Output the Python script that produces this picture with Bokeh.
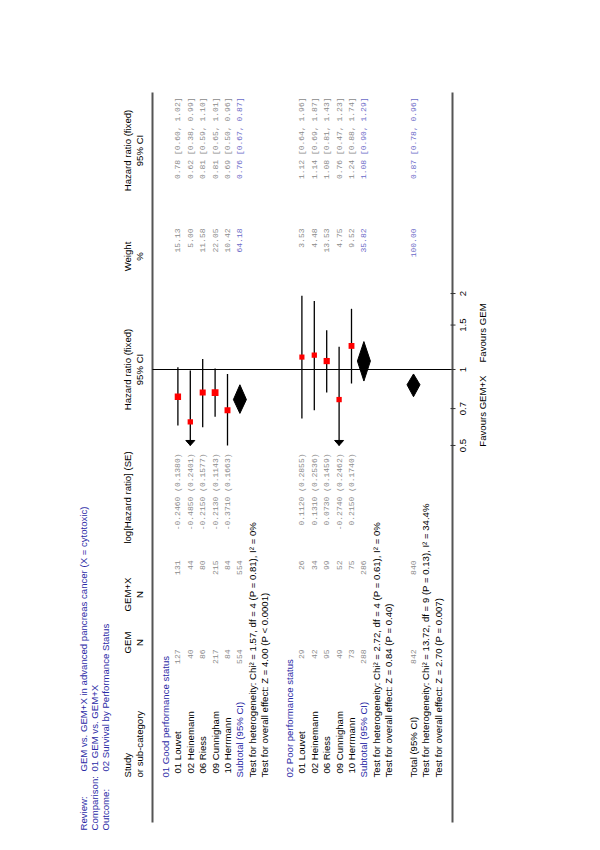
import numpy as np
from bokeh.plotting import figure
from bokeh.models import Range1d
from bokeh.embed import file_html
from bokeh.resources import INLINE
from bokeh.core.properties import value

# ---------------- data ----------------
review_labels = ["Review:", "Comparison:", "Outcome:"]
review_values = ["GEM vs. GEM+X in advanced pancreas cancer (X = cytotoxic)",
                 "01 GEM vs. GEM+X",
                 "02 Survival by Performance Status"]

group_titles = ["01 Good performance status", "02 Poor performance status"]
study_names = ["01 Louvet", "02 Heinemann", "06 Riess", "09 Cunnigham", "10 Herrmann"]

good_gem_n = [127, 40, 86, 217, 84]
good_gemx_n = [131, 44, 80, 215, 84]
good_loghr = [-0.2460, -0.4850, -0.2150, -0.2130, -0.3710]
good_se = [0.1380, 0.2401, 0.1577, 0.1143, 0.1663]
good_weight = [15.13, 5.00, 11.58, 22.05, 10.42]
good_hr = [0.78, 0.62, 0.81, 0.81, 0.69]
good_lo = [0.60, 0.38, 0.59, 0.65, 0.50]
good_hi = [1.02, 0.99, 1.10, 1.01, 0.96]

poor_gem_n = [29, 42, 95, 49, 73]
poor_gemx_n = [26, 34, 99, 52, 75]
poor_loghr = [0.1120, 0.1310, 0.0730, -0.2740, 0.2150]
poor_se = [0.2855, 0.2536, 0.1459, 0.2462, 0.1740]
poor_weight = [3.53, 4.48, 13.53, 4.75, 9.52]
poor_hr = [1.12, 1.14, 1.08, 0.76, 1.24]
poor_lo = [0.64, 0.69, 0.81, 0.47, 0.88]
poor_hi = [1.96, 1.87, 1.43, 1.23, 1.74]

subtotal_gem_n = [554, 288]
subtotal_gemx_n = [554, 286]
subtotal_weight = [64.18, 35.82]
subtotal_hr = [0.76, 1.08]
subtotal_lo = [0.67, 0.90]
subtotal_hi = [0.87, 1.29]
subtotal_het = ["Test for heterogeneity: Chi\u00b2 = 1.57, df = 4 (P = 0.81), I\u00b2 = 0%",
                "Test for heterogeneity: Chi\u00b2 = 2.72, df = 4 (P = 0.61), I\u00b2 = 0%"]
subtotal_overall = ["Test for overall effect: Z = 4.00 (P < 0.0001)",
                    "Test for overall effect: Z = 0.84 (P = 0.40)"]

total_gem_n = 842
total_gemx_n = 840
total_weight = 100.00
total_hr = 0.87
total_lo = 0.78
total_hi = 0.96
total_het = "Test for heterogeneity: Chi\u00b2 = 13.72, df = 9 (P = 0.13), I\u00b2 = 34.4%"
total_overall = "Test for overall effect: Z = 2.70 (P = 0.007)"

axis_ticks = [0.5, 0.7, 1, 1.5, 2]
axis_tick_labels = ["0.5", "0.7", "1", "1.5", "2"]
hr_min, hr_max = 0.5, 2.0
favours_left = "Favours GEM+X"
favours_right = "Favours GEM"

# ---------------- layout (page is rotated 90 deg) ----------------
ROW_PX = 12.4     # pixels per table row (horizontal on page)
ROW0 = 166.0      # page x of first row
LN_PX = 109.6     # pixels per ln(HR) unit (vertical on page)
HR1 = 369.0       # page y of HR = 1
OFF_X, OFF_Y = 1, 0   # where the plot frame lands on the photographed page


def rx(px):
    return (px - ROW0) / ROW_PX


def cy(py):
    return (HR1 - py) / LN_PX


p = figure(width=584, height=834,
           x_range=Range1d(rx(OFF_X), rx(OFF_X + 584)),
           y_range=Range1d(cy(OFF_Y + 834), cy(OFF_Y)),
           min_border=0, toolbar_location=None, output_backend="svg",
           x_axis_location=None, y_axis_location=None, outline_line_color=None)
p.grid.visible = False

SANS = value("Liberation Sans")
MONO = value("Liberation Mono")
SANS_SIZE = value("9.6px")
MONO_SIZE = value("8px")
BLUE = "#2b2ba6"
LBLUE = "#6a6ac8"
GREY = "#8a8a8a"
ANG = np.pi / 2


def txt(xs, ys, texts, align="left", font=SANS, size=SANS_SIZE, color="black"):
    p.text(x=list(xs), y=list(ys), text=list(texts), angle=ANG,
           text_align=align, text_baseline="middle",
           text_font=font, text_font_size=size, text_color=color)


# column positions (page y)
Y_LABEL = 830
Y_REVIEW = 771
Y_STUDY = 777
Y_STUDY_IND = 773
Y_GEM_HDR, Y_GEM = 642, 649
Y_GEMX_HDR, Y_GEMX = 594, 560
Y_LOG_HDR, Y_LOG = 497, 453
Y_W_HDR, Y_W = 256, 228
Y_CI_HDR, Y_CI = 150, 97

# title block
title_rows = [rx(84), rx(95), rx(106)]
txt(title_rows, [cy(Y_LABEL)] * 3, review_labels, color=BLUE)
txt(title_rows, [cy(Y_REVIEW)] * 3, review_values, color=BLUE)

# column headers
h1, h2 = rx(128), rx(140)
txt([h1, h2], [cy(Y_STUDY)] * 2, ["Study", "or sub-category"])
txt([h1, h2], [cy(Y_GEM_HDR)] * 2, ["GEM", "N"], align="center")
txt([h1, h2], [cy(Y_GEMX_HDR)] * 2, ["GEM+X", "N"], align="center")
txt([h1], [cy(Y_LOG_HDR)], ["log[Hazard ratio] (SE)"], align="center")
txt([h1, h2], [cy(HR1)] * 2, ["Hazard ratio (fixed)", "95% CI"], align="center")
txt([h1, h2], [cy(Y_W_HDR)] * 2, ["Weight", "%"], align="center")
txt([h1, h2], [cy(Y_CI_HDR)] * 2, ["Hazard ratio (fixed)", "95% CI"], align="center")

# frame lines
line_top, line_bot = cy(822), cy(92)
x_hdr_line, x_bot_line = rx(153), rx(453)
p.segment(x0=[x_hdr_line, x_bot_line], y0=[line_top] * 2, x1=[x_hdr_line, x_bot_line], y1=[line_bot] * 2,
          line_color="#555555", line_width=2)
# line of no effect
p.segment(x0=[x_hdr_line], y0=[np.log(1.0)], x1=[x_bot_line], y1=[np.log(1.0)], line_color="black", line_width=1)

groups = [
    (good_gem_n, good_gemx_n, good_loghr, good_se, good_weight, good_hr, good_lo, good_hi),
    (poor_gem_n, poor_gemx_n, poor_loghr, poor_se, poor_weight, poor_hr, poor_lo, poor_hi),
]

sq_x, sq_y, sq_s = [], [], []
ci_x0, ci_y0, ci_x1, ci_y1 = [], [], [], []
arrow_xs, arrow_ys = [], []
dia_xs, dia_ys = [], []
ARW_LEN = 5.0 / LN_PX
ARW_HW = 4.5 / ROW_PX
DIA_HW = 6.5 / ROW_PX

for g, (gn, gxn, lhr, se, w, hr, lo, hi) in enumerate(groups):
    base = 10 * g
    rows = [base + 1 + i for i in range(len(gn))]
    txt([base], [cy(Y_STUDY)], [group_titles[g]], color=BLUE)
    txt(rows, [cy(Y_STUDY_IND)] * len(rows), study_names)
    txt(rows, [cy(Y_GEM)] * len(rows), [str(v) for v in gn], align="right", font=MONO, size=MONO_SIZE, color=GREY)
    txt(rows, [cy(Y_GEMX)] * len(rows), [str(v) for v in gxn], align="right", font=MONO, size=MONO_SIZE, color=GREY)
    txt(rows, [cy(Y_LOG)] * len(rows), ["%.4f (%.4f)" % (a, b) for a, b in zip(lhr, se)],
        align="right", font=MONO, size=MONO_SIZE, color=GREY)
    txt(rows, [cy(Y_W)] * len(rows), ["%.2f" % v for v in w], align="right", font=MONO, size=MONO_SIZE, color=GREY)
    txt(rows, [cy(Y_CI)] * len(rows), ["%.2f [%.2f, %.2f]" % (a, b, c) for a, b, c in zip(hr, lo, hi)],
        align="right", font=MONO, size=MONO_SIZE, color=GREY)
    for r, h, l, u, ww in zip(rows, hr, lo, hi, w):
        yl = np.log(max(l, hr_min))
        yu = np.log(min(u, hr_max))
        ci_x0.append(r); ci_x1.append(r); ci_y0.append(yl); ci_y1.append(yu)
        if l < hr_min:
            arrow_xs.append([r - ARW_HW, r, r + ARW_HW])
            arrow_ys.append([yl + ARW_LEN, yl, yl + ARW_LEN])
        sq_x.append(r); sq_y.append(np.log(h)); sq_s.append(4.0 + 0.6 * np.sqrt(ww))
    # subtotal
    rs = base + 6
    txt([rs], [cy(Y_STUDY)], ["Subtotal (95% CI)"], color=BLUE)
    txt([rs], [cy(Y_GEM)], [str(subtotal_gem_n[g])], align="right", font=MONO, size=MONO_SIZE, color=GREY)
    txt([rs], [cy(Y_GEMX)], [str(subtotal_gemx_n[g])], align="right", font=MONO, size=MONO_SIZE, color=GREY)
    txt([rs], [cy(Y_W)], ["%.2f" % subtotal_weight[g]], align="right", font=MONO, size=MONO_SIZE, color=LBLUE)
    txt([rs], [cy(Y_CI)], ["%.2f [%.2f, %.2f]" % (subtotal_hr[g], subtotal_lo[g], subtotal_hi[g])],
        align="right", font=MONO, size=MONO_SIZE, color=LBLUE)
    dia_xs.append([rs, rs + DIA_HW, rs, rs - DIA_HW])
    dia_ys.append([np.log(subtotal_lo[g]), np.log(subtotal_hr[g]), np.log(subtotal_hi[g]), np.log(subtotal_hr[g])])
    txt([base + 7, base + 8], [cy(Y_STUDY)] * 2, [subtotal_het[g], subtotal_overall[g]])

# total
rt = 20
txt([rt, rt + 1, rt + 2], [cy(Y_STUDY)] * 3, ["Total (95% CI)", total_het, total_overall])
txt([rt], [cy(Y_GEM)], [str(total_gem_n)], align="right", font=MONO, size=MONO_SIZE, color=GREY)
txt([rt], [cy(Y_GEMX)], [str(total_gemx_n)], align="right", font=MONO, size=MONO_SIZE, color=GREY)
txt([rt], [cy(Y_W)], ["%.2f" % total_weight], align="right", font=MONO, size=MONO_SIZE, color=LBLUE)
txt([rt], [cy(Y_CI)], ["%.2f [%.2f, %.2f]" % (total_hr, total_lo, total_hi)],
    align="right", font=MONO, size=MONO_SIZE, color=LBLUE)
dia_xs.append([rt, rt + DIA_HW, rt, rt - DIA_HW])
dia_ys.append([np.log(total_lo), np.log(total_hr), np.log(total_hi), np.log(total_hr)])

# glyphs
p.segment(x0=ci_x0, y0=ci_y0, x1=ci_x1, y1=ci_y1, line_color="black", line_width=1.3)
p.patches(xs=arrow_xs, ys=arrow_ys, fill_color="black", line_color="black", line_width=1)
p.patches(xs=dia_xs, ys=dia_ys, fill_color="black", line_color="black", line_width=1)
p.scatter(x=sq_x, y=sq_y, size=sq_s, marker="square", fill_color="#ff0000", line_color=None)

# axis ticks and labels (drawn on the bottom line)
tick_y = [np.log(t) for t in axis_ticks]
p.segment(x0=[rx(451)] * len(tick_y), y0=tick_y, x1=[rx(456)] * len(tick_y), y1=tick_y,
          line_color="#333333", line_width=1)
txt([rx(463)] * len(tick_y), tick_y, axis_tick_labels, align="center")
txt([rx(483)], [cy(HR1 + 6)], [favours_left], align="right")
txt([rx(483)], [cy(HR1 - 7)], [favours_right], align="left")

open("out.html", "w").write(file_html(p, INLINE))
